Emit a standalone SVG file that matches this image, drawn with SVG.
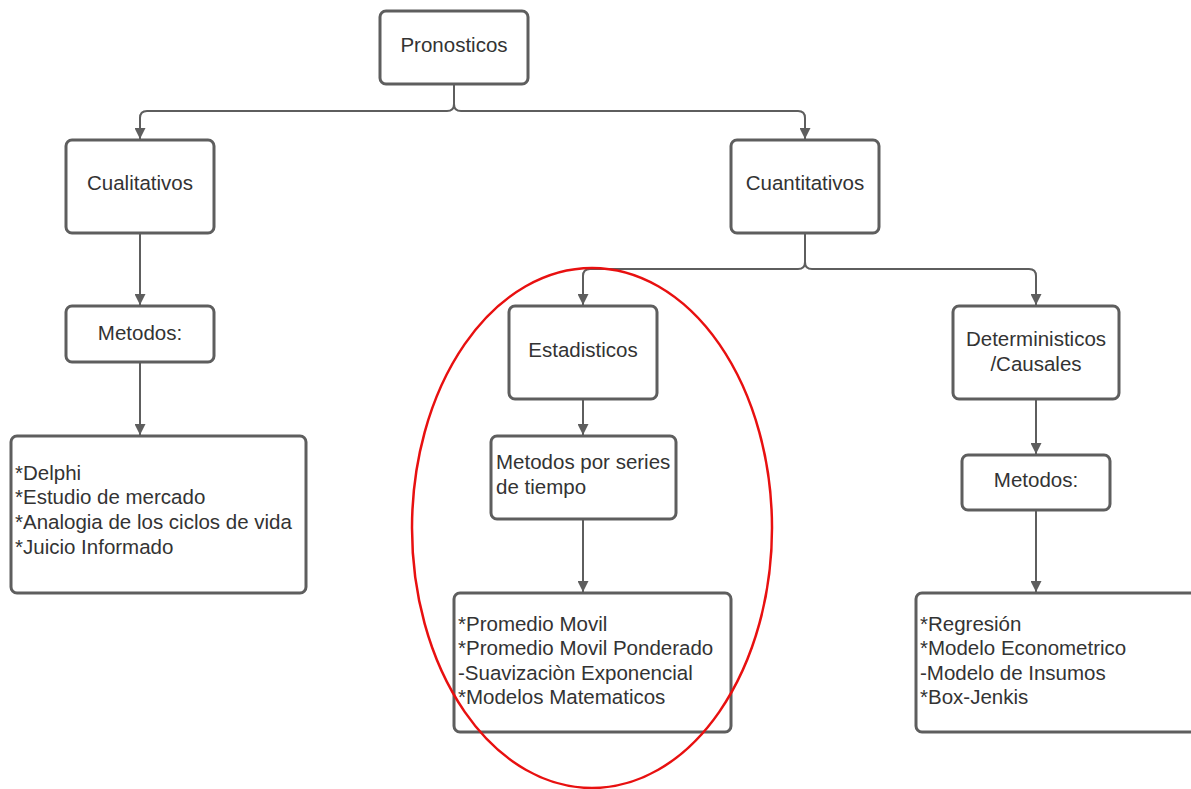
<svg xmlns="http://www.w3.org/2000/svg" width="1191" height="789" viewBox="0 0 1191 789">
  <style>
    .box { fill: #ffffff; stroke: #5e5e5e; stroke-width: 3; }
    .lbl { font-family: "Liberation Sans", Arial, sans-serif; font-size: 20.5px; fill: #333333; }
    .c { text-anchor: middle; }
    .edge { fill: none; stroke: #5e5e5e; stroke-width: 2; }
  </style>
  <defs>
    <marker id="arrow" viewBox="0 0 10 10" refX="10" refY="5" markerWidth="15" markerHeight="11" markerUnits="userSpaceOnUse" orient="auto">
      <path d="M0,0 L10,5 L0,10 z" fill="#5e5e5e"/>
    </marker>
  </defs>
  <rect width="1191" height="789" fill="#ffffff"/>

  <g id="connectors">
    <path class="edge" d="M454,85 V104 Q454,111 447,111 H147 Q140,111 140,118 V139" marker-end="url(#arrow)"/>
    <path class="edge" d="M454,104 Q454,111 461,111 H798 Q805,111 805,118 V139" marker-end="url(#arrow)"/>
    <path class="edge" d="M140,234 V305" marker-end="url(#arrow)"/>
    <path class="edge" d="M140,363 V435" marker-end="url(#arrow)"/>
    <path class="edge" d="M805,234 V262 Q805,269 798,269 H590 Q583,269 583,276 V305" marker-end="url(#arrow)"/>
    <path class="edge" d="M805,262 Q805,269 812,269 H1029 Q1036,269 1036,276 V305" marker-end="url(#arrow)"/>
    <path class="edge" d="M583,400 V435" marker-end="url(#arrow)"/>
    <path class="edge" d="M583,520 V592" marker-end="url(#arrow)"/>
    <path class="edge" d="M1036,400 V454" marker-end="url(#arrow)"/>
    <path class="edge" d="M1036,511 V592" marker-end="url(#arrow)"/>
  </g>

  <g id="pronosticos">
    <rect class="box" x="380" y="11" width="148" height="73" rx="6"/>
    <text class="lbl c" x="454" y="52">Pronosticos</text>
  </g>
  <g id="cualitativos">
    <rect class="box" x="66" y="140" width="148" height="93" rx="6"/>
    <text class="lbl c" x="140" y="190">Cualitativos</text>
  </g>
  <g id="cuantitativos">
    <rect class="box" x="731" y="140" width="148" height="93" rx="6"/>
    <text class="lbl c" x="805" y="190">Cuantitativos</text>
  </g>
  <g id="metodos-cualitativos">
    <rect class="box" x="66" y="306" width="148" height="56" rx="6"/>
    <text class="lbl c" x="140" y="340">Metodos:</text>
  </g>
  <g id="lista-cualitativos">
    <rect class="box" x="11" y="436" width="295" height="157" rx="6"/>
    <text class="lbl" x="15" y="480">*Delphi</text>
    <text class="lbl" x="15" y="504">*Estudio de mercado</text>
    <text class="lbl" x="15" y="529">*Analogia de los ciclos de vida</text>
    <text class="lbl" x="15" y="554">*Juicio Informado</text>
  </g>
  <g id="estadisticos">
    <rect class="box" x="509" y="306" width="148" height="93" rx="6"/>
    <text class="lbl c" x="583" y="357">Estadisticos</text>
  </g>
  <g id="series-tiempo">
    <rect class="box" x="491" y="436" width="185" height="83" rx="6"/>
    <text class="lbl" x="496" y="469">Metodos por series</text>
    <text class="lbl" x="496" y="494">de tiempo</text>
  </g>
  <g id="lista-estadisticos">
    <rect class="box" x="454" y="593" width="277" height="139" rx="6"/>
    <text class="lbl" x="458" y="631">*Promedio Movil</text>
    <text class="lbl" x="458" y="655">*Promedio Movil Ponderado</text>
    <text class="lbl" x="458" y="680">-Suavizaciòn Exponencial</text>
    <text class="lbl" x="458" y="704">*Modelos Matematicos</text>
  </g>
  <g id="deterministicos">
    <rect class="box" x="953" y="306" width="166" height="93" rx="6"/>
    <text class="lbl c" x="1036" y="346">Deterministicos</text>
    <text class="lbl c" x="1036" y="371">/Causales</text>
  </g>
  <g id="metodos-deterministicos">
    <rect class="box" x="962" y="455" width="148" height="55" rx="6"/>
    <text class="lbl c" x="1036" y="487">Metodos:</text>
  </g>
  <g id="lista-deterministicos">
    <rect class="box" x="916" y="593" width="285" height="139" rx="6"/>
    <text class="lbl" x="920" y="631">*Regresión</text>
    <text class="lbl" x="920" y="655">*Modelo Econometrico</text>
    <text class="lbl" x="920" y="680">-Modelo de Insumos</text>
    <text class="lbl" x="920" y="704">*Box-Jenkis</text>
  </g>

  <g id="resaltado">
    <ellipse cx="592" cy="528" rx="180" ry="260" fill="none" stroke="#e81010" stroke-width="2.5"/>
  </g>
</svg>
